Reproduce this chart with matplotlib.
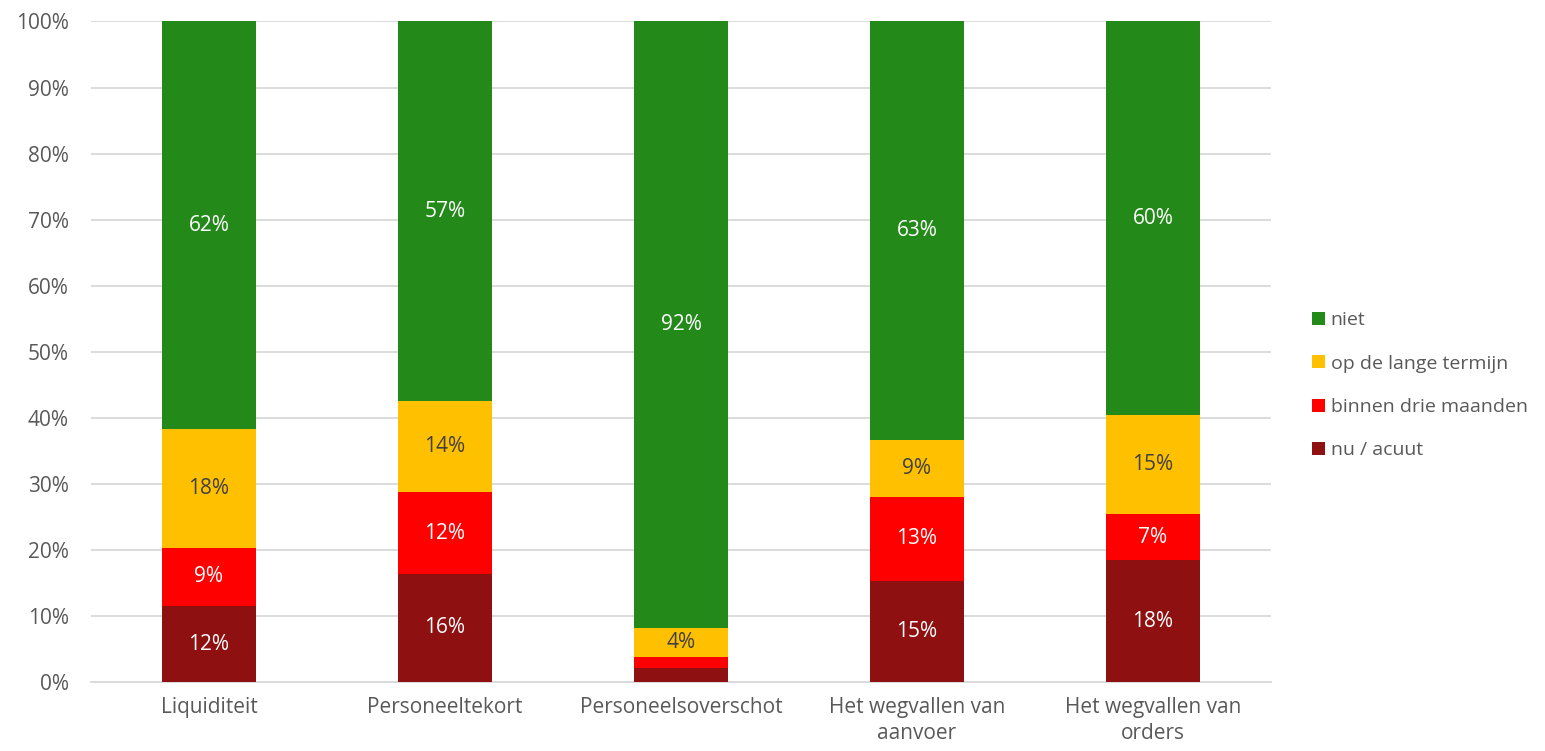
import numpy as np
import matplotlib.pyplot as plt

plt.rcParams['font.family'] = ['Open Sans', 'DejaVu Sans']

categories = ["Liquiditeit", "Personeeltekort", "Personeelsoverschot",
              "Het wegvallen van\naanvoer", "Het wegvallen van\norders"]
series = ["nu / acuut", "binnen drie maanden", "op de lange termijn", "niet"]
nu_acuut = [11.5, 16.4, 2.1, 15.3, 18.4]
binnen_drie = [8.8, 12.3, 1.7, 12.7, 7.0]
lange_termijn = [18.0, 13.8, 4.4, 8.6, 15.0]
niet = [61.7, 57.5, 91.8, 63.4, 59.6]
labels = [["12%", "16%", "", "15%", "18%"],
          ["9%", "12%", "", "13%", "7%"],
          ["18%", "14%", "4%", "9%", "15%"],
          ["62%", "57%", "92%", "63%", "60%"]]

colors = ["#8E1010", "#FF0000", "#FFC000", "#238A1A"]
text_colors = ["white", "white", "#404040", "white"]
fs = 15

fig = plt.figure(figsize=(15.45, 7.51), dpi=100)
ax = fig.add_axes([0.0589, 0.0919, 0.7637, 0.8795])

x = np.arange(len(categories))
bottom = np.zeros(len(categories))
handles = []
for i, vals in enumerate([nu_acuut, binnen_drie, lange_termijn, niet]):
    vals = np.array(vals)
    b = ax.bar(x, vals, 0.4, bottom=bottom, color=colors[i], label=series[i], zorder=3)
    handles.append(b)
    for j in range(len(x)):
        if labels[i][j]:
            ax.text(x[j], bottom[j] + vals[j] / 2, labels[i][j], ha="center", va="center",
                    color=text_colors[i], fontsize=fs, zorder=4)
    bottom += vals

ax.set_xlim(-0.5, 4.5)
ax.set_ylim(0, 100)
ax.set_yticks(np.arange(0, 101, 10))
ax.set_yticklabels([f"{v}%" for v in range(0, 101, 10)])
ax.set_xticks(x)
ax.set_xticklabels(categories, linespacing=1.3)
ax.grid(axis="y", color="#D9D9D9", linewidth=1.3, zorder=0)
for s in ["top", "right", "left"]:
    ax.spines[s].set_visible(False)
ax.spines["bottom"].set_color("#D9D9D9")
ax.spines["bottom"].set_linewidth(1.3)
ax.tick_params(axis="both", length=0, labelsize=fs, labelcolor="#595959")
ax.tick_params(axis="y", pad=16)
ax.tick_params(axis="x", pad=11)

leg = fig.legend(handles[::-1], series[::-1], loc="center left", bbox_to_anchor=(0.838, 0.487),
                 frameon=False, fontsize=14, labelcolor="#595959", handlelength=0.65,
                 handleheight=0.65, handletextpad=0.3, labelspacing=1.3)

fig.savefig("out.png", dpi=100)
